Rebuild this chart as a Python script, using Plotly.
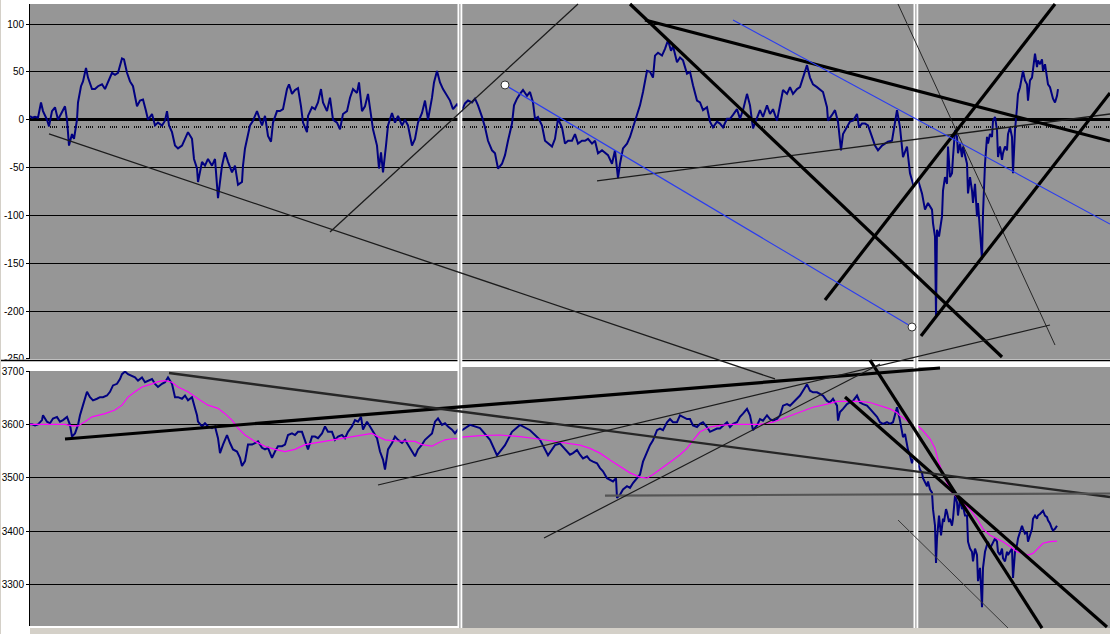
import plotly.graph_objects as go

W, H = 1110, 634

# ---------------- DATA ----------------
# Upper panel (blue series): (sample, value)
top_left = [(0,4),(2,2),(5,3),(8,2),(11,18),(13,9),(17,0),(19,-7),(22,9),(25,13),(28,0),(32,9),(35,14),(37,0),(39,-27),(42,-15),(44,-20),(47,0),(48,18),(51,35),(53,40),(56,54),(58,44),(62,32),(65,32),(68,35),(72,37),(75,32),(78,40),(82,49),(85,47),(88,49),(92,64),(94,63),(97,49),(100,40),(103,35),(107,14),(110,20),(113,21),(116,9),(118,0),(122,6),(125,-6),(128,-3),(132,-6),(135,-1),(137,9),(139,-6),(142,-13),(145,-27),(148,-30),(152,-27),(155,-20),(158,-13),(162,-20),(164,-41),(167,-51),(168,-65),(172,-44),(175,-48),(178,-41),(182,-48),(185,-41),(188,-82),(192,-48),(195,-34),(198,-44),(202,-55),(205,-48),(208,-68),(212,-65),(213,-48),(215,-30),(218,-17),(220,-6),(223,-1),(227,9),(230,0),(232,-6),(235,4),(238,-17),(241,-23),(243,-3),(247,9),(250,9),(253,11),(257,32),(259,37),(262,27),(265,31),(268,33),(271,14),(273,-3),(277,-13),(278,4),(282,13),(285,11),(288,18),(291,32),(293,18),(297,9),(300,23),(303,0),(307,-3),(310,-10),(313,6),(317,9),(320,23),(323,32),(327,28),(329,39),(332,9),(335,14),(338,27),(340,11),(343,-10),(347,-27),(349,-51),(351,-34),(353,-55),(356,-27),(358,-6),(362,7),(365,-3),(368,4),(372,-6),(375,0),(378,-6),(382,-27),(385,-20),(388,-3),(392,7),(395,20),(398,0),(402,23),(404,39),(407,51),(410,39),(413,32),(417,25),(420,20),(423,11),(427,16)]
top_mid = [(432,10),(435,17),(438,20),(442,18),(445,22),(448,15),(452,3),(455,-8),(458,-22),(462,-32),(465,-35),(468,-51),(472,-46),(475,-37),(478,-22),(482,-4),(484,15),(487,22),(490,27),(493,31),(497,25),(500,29),(503,18),(505,1),(508,3),(512,-6),(515,-22),(518,-25),(522,-28),(525,-20),(528,1),(532,-8),(535,-25),(538,-22),(542,-22),(545,-15),(548,-25),(552,-22),(555,-22),(558,-20),(562,-25),(565,-22),(568,-35),(572,-32),(575,-35),(578,-37),(582,-46),(585,-32),(588,-61),(590,-46),(593,-30),(597,-25),(600,-18),(603,-8),(607,5),(610,15),(613,29),(617,51),(620,50),(623,44),(625,67),(628,70),(632,67),(635,74),(638,83),(641,72),(643,77),(647,60),(650,65),(653,62),(657,48),(660,50),(663,36),(667,20),(670,18),(673,10),(677,13),(680,-2),(683,-8),(687,-2),(690,-4),(693,-8),(697,1),(700,1),(703,5),(707,11),(710,1),(713,10),(717,27),(720,15),(723,-9),(727,1),(730,10),(733,3),(737,15),(740,6),(743,11),(747,-1),(750,15),(753,31),(757,27),(760,34),(763,27),(767,32),(770,34),(773,44),(777,57),(780,44),(783,37),(787,34),(790,31),(793,29),(797,13),(798,-1),(802,5),(805,10),(808,-2),(811,-32),(813,-15),(817,-8),(820,-2),(823,-1),(827,6),(829,-8),(832,-4),(835,-4),(838,-6),(842,-18),(845,-27),(848,-32),(852,-27),(855,-25),(858,-23),(862,-22),(864,-8),(867,10)]
top_right = [(870,-8),(873,-39),(877,-28),(880,-56),(883,-67),(888,-63),(892,-77),(895,-94),(898,-87),(902,-94),(903,-108),(905,-122),(906,-205),(907,-115),(909,-122),(912,-101),(913,-74),(915,-60),(917,-67),(918,-28),(920,-60),(922,-56),(923,-39),(925,-11),(927,-18),(928,-35),(930,-25),(932,-39),(933,-28),(935,-39),(937,-46),(938,-77),(940,-60),(942,-74),(943,-87),(945,-67),(947,-101),(948,-87),(950,-115),(952,-146),(953,-98),(955,-46),(957,-18),(958,-25),(960,-15),(962,-18),(963,-1),(965,3),(967,-11),(968,-39),(970,-28),(972,-42),(973,-35),(975,-28),(977,-32),(978,-15),(980,-8),(982,-18),(983,-56),(985,-11),(987,13),(988,27),(990,34),(992,48),(993,51),(995,41),(997,37),(998,20),(1000,41),(1002,44),(1003,51),(1005,69),(1007,55),(1008,62),(1010,58),(1012,63),(1013,51),(1015,58),(1017,44),(1018,37),(1020,34),(1022,27),(1023,22),(1025,18),(1027,25),(1028,32)]

# Lower panel (blue index series): (sample, value)
low_left = [(0,3600),(2,3600),(5,3598),(8,3600),(12,3608),(13,3617),(17,3605),(20,3602),(23,3611),(27,3614),(30,3605),(33,3608),(37,3614),(40,3599),(42,3577),(45,3583),(48,3599),(50,3617),(53,3636),(57,3661),(60,3651),(63,3645),(67,3648),(70,3651),(73,3651),(77,3654),(80,3661),(83,3673),(87,3676),(90,3685),(92,3694),(95,3699),(98,3694),(102,3691),(105,3688),(108,3682),(112,3688),(115,3679),(118,3682),(122,3685),(125,3676),(128,3670),(132,3676),(135,3679),(138,3688),(142,3676),(145,3651),(148,3651),(152,3648),(155,3654),(158,3645),(162,3651),(165,3630),(167,3617),(168,3605),(172,3596),(175,3602),(178,3596),(182,3593),(185,3596),(188,3574),(190,3546),(193,3562),(197,3580),(200,3565),(203,3553),(207,3549),(210,3537),(212,3522),(215,3531),(218,3562),(222,3562),(225,3565),(228,3568),(232,3556),(235,3553),(238,3556),(242,3537),(245,3549),(248,3559),(252,3559),(255,3562),(258,3580),(262,3583),(265,3580),(268,3586),(272,3586),(275,3571),(278,3553),(282,3577),(285,3577),(288,3574),(292,3583),(295,3596),(298,3586),(302,3586),(305,3571),(308,3577),(312,3580),(315,3574),(318,3586),(322,3596),(325,3608),(328,3605),(331,3614),(333,3590),(337,3605),(340,3596),(343,3586),(347,3574),(350,3549),(353,3534),(355,3515),(358,3553),(362,3565),(365,3577),(368,3571),(372,3565),(375,3571),(378,3562),(382,3549),(385,3540),(388,3553),(392,3562),(395,3571),(398,3577),(402,3583),(405,3605),(408,3611),(412,3599),(415,3602),(418,3596),(422,3590),(425,3583),(428,3590)]
low_mid = [(432,3589),(440,3599),(450,3593),(460,3571),(467,3542),(475,3561),(482,3586),(490,3599),(500,3589),(510,3571),(518,3542),(525,3561),(530,3564),(533,3558),(537,3549),(540,3543),(543,3546),(547,3552),(550,3543),(553,3536),(557,3540),(560,3533),(563,3530),(567,3527),(570,3518),(573,3512),(577,3499),(580,3496),(583,3493),(586,3499),(587,3462),(590,3468),(593,3478),(597,3484),(600,3481),(603,3490),(607,3499),(610,3506),(613,3530),(617,3549),(620,3561),(623,3570),(627,3589),(630,3592),(633,3589),(637,3604),(640,3610),(643,3604),(647,3604),(650,3617),(653,3614),(657,3610),(660,3610),(663,3598),(667,3595),(670,3601),(673,3604),(677,3595),(680,3586),(683,3589),(687,3592),(690,3592),(693,3598),(697,3604),(700,3595),(703,3601),(707,3604),(710,3614),(713,3620),(717,3629),(720,3617),(723,3589),(727,3598),(730,3610),(733,3607),(737,3617),(740,3610),(743,3607),(747,3610),(750,3617),(753,3635),(757,3638),(760,3635),(763,3641),(767,3648),(770,3654),(773,3663),(777,3675),(780,3663),(783,3660),(787,3660),(790,3657),(793,3654),(797,3644),(800,3641),(803,3648),(807,3635),(808,3607),(810,3623),(813,3629),(817,3638),(820,3641),(823,3644),(827,3654),(830,3641),(833,3638),(837,3635),(840,3629),(843,3623),(847,3614),(850,3604),(853,3601),(857,3604),(860,3601),(863,3604),(867,3632)]
low_right = [(870,3607),(872,3582),(873,3576),(875,3582),(877,3561),(878,3552),(880,3542),(882,3527),(883,3533),(888,3527),(890,3515),(892,3509),(893,3499),(895,3490),(897,3484),(898,3493),(900,3478),(902,3472),(903,3441),(905,3410),(906,3340),(907,3386),(909,3429),(911,3392),(913,3423),(914,3417),(916,3441),(917,3435),(919,3417),(920,3423),(922,3410),(923,3423),(925,3466),(927,3454),(928,3429),(930,3460),(932,3441),(933,3447),(935,3429),(937,3429),(938,3380),(940,3367),(942,3361),(943,3343),(945,3367),(947,3355),(948,3306),(950,3331),(952,3257),(953,3331),(955,3361),(957,3374),(958,3380),(960,3367),(962,3374),(963,3380),(965,3386),(967,3380),(968,3361),(970,3355),(972,3367),(973,3349),(975,3343),(977,3361),(978,3355),(980,3361),(982,3367),(983,3312),(985,3361),(987,3374),(988,3386),(990,3398),(992,3410),(993,3404),(995,3395),(997,3398),(998,3380),(1000,3392),(1002,3404),(1003,3423),(1005,3429),(1007,3423),(1008,3429),(1010,3432),(1012,3435),(1013,3438),(1015,3429),(1017,3426),(1018,3420),(1020,3414),(1022,3404),(1023,3401),(1025,3404),(1027,3410)]

# Lower panel moving average (magenta)
ma_left = [(0,3600),(22,3600),(35,3600),(42,3597),(48,3597),(55,3605),(62,3614),(75,3620),(85,3627),(92,3636),(98,3651),(105,3661),(112,3670),(122,3676),(128,3680),(135,3682),(142,3679),(148,3670),(158,3661),(168,3648),(178,3636),(188,3630),(195,3620),(202,3608),(208,3593),(215,3580),(225,3568),(235,3559),(245,3553),(255,3549),(265,3553),(275,3562),(285,3565),(295,3568),(305,3571),(315,3574),(325,3577),(335,3580),(342,3583),(348,3577),(355,3571),(365,3569),(375,3568),(385,3568),(392,3562),(402,3559),(408,3565),(415,3571),(422,3573),(428,3573)]
ma_mid = [(432,3576),(450,3579),(470,3580),(490,3577),(510,3572),(530,3566),(540,3564),(550,3561),(560,3555),(570,3546),(580,3533),(590,3521),(600,3509),(610,3501),(617,3499),(623,3506),(630,3515),(637,3524),(643,3533),(650,3543),(657,3555),(663,3570),(670,3586),(680,3595),(690,3598),(703,3600),(717,3600),(730,3600),(743,3604),(757,3614),(770,3623),(783,3632),(797,3638),(807,3643),(817,3643),(830,3643),(840,3641),(850,3635),(860,3629),(867,3622)]
ma_right = [(870,3616),(877,3607),(882,3597),(888,3597),(893,3588),(900,3573),(905,3555),(908,3533),(912,3512),(917,3490),(922,3472),(927,3463),(933,3453),(940,3441),(947,3423),(953,3404),(960,3392),(967,3386),(973,3380),(980,3371),(987,3361),(993,3358),(998,3355),(1003,3358),(1008,3367),(1013,3377),(1020,3380),(1027,3381)]

# Hand-drawn trend lines: (sample0, value0, sample1, value1)
upper_thin_lines = [(19,-14.9,745,-270.9),(300,-117.3,548,120.9),(567,-64.0,1080,6.0)]
upper_hair_lines = [(868,120.9,1025,-235.4)]
upper_thick_lines = [(615,104.2,1080,-22.3),(600,120.9,972,-247.9),(795,-188.4,1025,120.9),(891,-225.9,1080,27.9)]
upper_blue_lines = [(475,36.3,882,-216.6),(703,104.2,1080,-109.0)]
upper_blue_handles = [(475,36.3),(882,-216.6)]
lower_thick_lines = [(35,3572.5,910,3705.6),(840,3720.6,1012,3218.1),(815,3651.3,1077,3220.0)]
lower_medium_lines = [(139,3696.3,1080,3463.8)]
lower_gray_lines = [(575,3466.2,1080,3470.3)]
lower_thin_lines = [(348,3486.3,1020,3786.3),(514,3386.9,850,3713.1)]
lower_hair_lines = [(868,3420.6,978,3218.1)]

upper_ticks = [100, 50, 0, -50, -100, -150, -200, -250]
lower_ticks = [3300, 3400, 3500, 3600, 3700]

# ---------------- LAYOUT CONSTANTS ----------------
def px_x(p):
    return p / W

def px_y(p):
    return 1 - p / H

X_DOM = [px_x(30), 1.0]
TOP_DOM = [px_y(359), px_y(4)]
BOT_DOM = [px_y(626), px_y(371)]
X_RANGE = [0, 1080]
TOP_RANGE = [-250.01, 120.9]
BOT_RANGE = [3221.9, 3700.01]


def full_range(dom, rng):
    k = (rng[1] - rng[0]) / (dom[1] - dom[0])
    return [rng[0] - dom[0] * k, rng[1] + (1 - dom[1]) * k]


def unzip(*parts):
    xs, ys = [], []
    for part in parts:
        for a, b in part:
            xs.append(a)
            ys.append(b)
    return xs, ys


NAVY = "#000080"
MAGENTA = "#FF00FF"
PANEL = "#969696"
FONT = dict(family="Liberation Sans, Arial, sans-serif", size=10, color="black")

fig = go.Figure()

tx, ty = unzip(top_left, top_mid, top_right)
fig.add_trace(go.Scatter(x=tx, y=ty, mode="lines", line=dict(color=NAVY, width=2),
                         xaxis="x", yaxis="y", hoverinfo="skip"))
bx, by = unzip(low_left, low_mid, low_right)
fig.add_trace(go.Scatter(x=bx, y=by, mode="lines", line=dict(color=NAVY, width=2),
                         xaxis="x2", yaxis="y2", hoverinfo="skip"))
mx, my = unzip(ma_left, ma_mid, ma_right)
fig.add_trace(go.Scatter(x=mx, y=my, mode="lines", line=dict(color=MAGENTA, width=1.2),
                         xaxis="x2", yaxis="y2", hoverinfo="skip"))
# empty traces to register the full-page overlay axes used by drawn trend lines
fig.add_trace(go.Scatter(x=[], y=[], xaxis="x3", yaxis="y3", hoverinfo="skip"))
fig.add_trace(go.Scatter(x=[], y=[], xaxis="x3", yaxis="y4", hoverinfo="skip"))

shapes = []
# panel backgrounds
shapes.append(dict(type="rect", xref="paper", yref="paper", layer="below",
                   x0=X_DOM[0], x1=1, y0=TOP_DOM[0], y1=TOP_DOM[1],
                   fillcolor=PANEL, line=dict(width=0)))
shapes.append(dict(type="rect", xref="paper", yref="paper", layer="below",
                   x0=X_DOM[0], x1=px_x(458), y0=BOT_DOM[0], y1=BOT_DOM[1],
                   fillcolor=PANEL, line=dict(width=0)))
shapes.append(dict(type="rect", xref="paper", yref="paper", layer="below",
                   x0=px_x(461), x1=1, y0=px_y(628), y1=px_y(367),
                   fillcolor=PANEL, line=dict(width=0)))
# dotted category labels under the zero line
shapes.append(dict(type="line", xref="x", yref="y", layer="below",
                   x0=X_RANGE[0] + 8, x1=X_RANGE[1], y0=-7.6, y1=-7.6,
                   line=dict(color="#111111", width=2.2,
                             dash="1px,1px,1px,1px,1px,1px,1px,5px")))

# window pane splits
shapes.append(dict(type="rect", xref="paper", yref="paper", layer="above",
                   x0=0, x1=1, y0=px_y(366), y1=px_y(359.5),
                   fillcolor="white", line=dict(width=0)))
shapes.append(dict(type="line", xref="paper", yref="paper", layer="above",
                   x0=0, x1=1, y0=px_y(360.5), y1=px_y(360.5),
                   line=dict(color="black", width=1.3)))
for a, b, mid, col in [(457.5, 462.3, 459.9, "#8c8c8c"), (913.5, 918.3, 915.9, "#8c8c8c")]:
    shapes.append(dict(type="rect", xref="paper", yref="paper", layer="above",
                       x0=px_x(a), x1=px_x(b), y0=px_y(634), y1=px_y(4),
                       fillcolor="white", line=dict(width=0)))
    shapes.append(dict(type="line", xref="paper", yref="paper", layer="above",
                       x0=px_x(mid), x1=px_x(mid), y0=px_y(634), y1=px_y(4),
                       line=dict(color=col, width=1)))
# window chrome
shapes.append(dict(type="rect", xref="paper", yref="paper", layer="above",
                   x0=px_x(30), x1=1, y0=0, y1=px_y(628),
                   fillcolor="#d4d0c8", line=dict(width=0)))
shapes.append(dict(type="line", xref="paper", yref="paper", layer="above",
                   x0=px_x(0.5), x1=px_x(0.5), y0=0, y1=1,
                   line=dict(color="#d4d0c8", width=1)))


def add_lines(lines, yref, color, width):
    for x0, y0, x1, y1 in lines:
        shapes.append(dict(type="line", xref="x3", yref=yref, layer="above",
                           x0=x0, y0=y0, x1=x1, y1=y1,
                           line=dict(color=color, width=width)))


add_lines(upper_thin_lines, "y3", "#1c1c1c", 1.3)
add_lines(upper_hair_lines, "y3", "#262626", 1.0)
add_lines(upper_thick_lines, "y3", "black", 3.2)
add_lines(upper_blue_lines, "y3", "#2a3cf0", 1.1)
add_lines(lower_thick_lines, "y4", "black", 3.2)
add_lines(lower_medium_lines, "y4", "#262626", 2.4)
add_lines(lower_gray_lines, "y4", "#555555", 2.2)
add_lines(lower_thin_lines, "y4", "#1c1c1c", 1.2)
add_lines(lower_hair_lines, "y4", "#3a3a3a", 1.0)

for hx, hy in upper_blue_handles:
    shapes.append(dict(type="circle", xref="x3", yref="y3", layer="above",
                       xsizemode="pixel", ysizemode="pixel", xanchor=hx, yanchor=hy,
                       x0=-4, x1=4, y0=-4, y1=4,
                       fillcolor="white", line=dict(color="#333333", width=1)))

axis_common = dict(showgrid=True, gridcolor="black", gridwidth=1,
                   ticks="outside", ticklen=3, tickcolor="black", tickwidth=1,
                   showline=True, linecolor="black", linewidth=1,
                   tickfont=FONT, fixedrange=True, automargin=False)

fig.update_layout(
    width=W, height=H,
    margin=dict(l=0, r=0, t=0, b=0, pad=0),
    paper_bgcolor="white",
    plot_bgcolor="rgba(0,0,0,0)",
    showlegend=False,
    template="none",
    font=FONT,
    xaxis=dict(domain=X_DOM, range=X_RANGE, anchor="y", visible=False, fixedrange=True),
    yaxis=dict(domain=TOP_DOM, range=TOP_RANGE, anchor="x", tickmode="array",
               tickvals=upper_ticks, ticktext=[str(v) for v in upper_ticks],
               zeroline=True, zerolinecolor="black", zerolinewidth=3, **axis_common),
    xaxis2=dict(domain=X_DOM, range=X_RANGE, anchor="y2", visible=False, fixedrange=True),
    yaxis2=dict(domain=BOT_DOM, range=BOT_RANGE, anchor="x2", tickmode="array",
                tickvals=lower_ticks, ticktext=[str(v) for v in lower_ticks],
                zeroline=False, **axis_common),
    xaxis3=dict(domain=[0, 1], range=full_range(X_DOM, X_RANGE), anchor="y3",
                visible=False, fixedrange=True),
    yaxis3=dict(domain=[0, 1], range=full_range(TOP_DOM, TOP_RANGE), anchor="x3",
                visible=False, fixedrange=True),
    yaxis4=dict(range=full_range(BOT_DOM, BOT_RANGE), anchor="x3", overlaying="y3",
                visible=False, fixedrange=True),
    shapes=shapes,
)

fig.write_html(
    "out.html",
    config={"displayModeBar": False, "staticPlot": True},
    post_script="document.body.style.margin='0';document.body.style.overflow='hidden';",
)
